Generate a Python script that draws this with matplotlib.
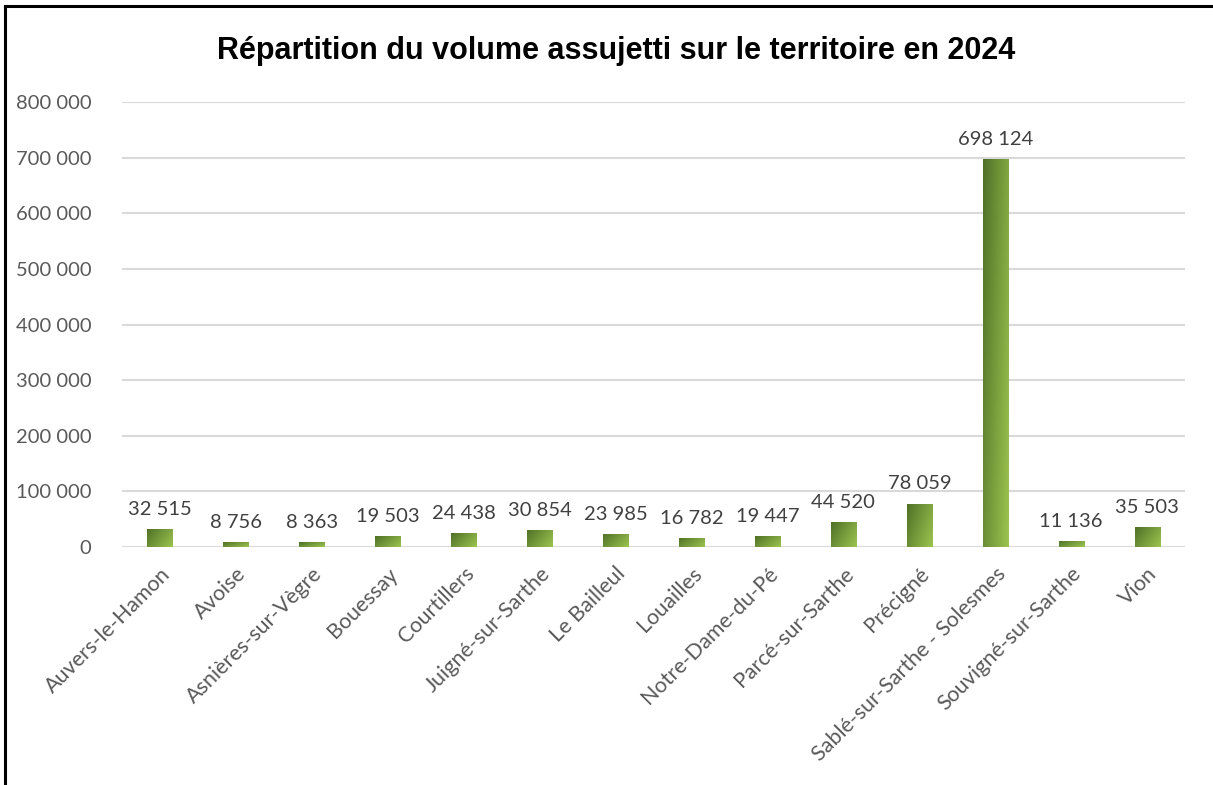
import matplotlib.pyplot as plt
import numpy as np
from matplotlib.colors import LinearSegmentedColormap
from matplotlib.lines import Line2D

communes = ["Auvers-le-Hamon", "Avoise", "Asnières-sur-Vègre", "Bouessay", "Courtillers",
            "Juigné-sur-Sarthe", "Le Bailleul", "Louailles", "Notre-Dame-du-Pé",
            "Parcé-sur-Sarthe", "Précigné", "Sablé-sur-Sarthe - Solesmes",
            "Souvigné-sur-Sarthe", "Vion"]
volumes = [32515, 8756, 8363, 19503, 24438, 30854, 23985, 16782, 19447,
           44520, 78059, 698124, 11136, 35503]
yticks = [0, 100000, 200000, 300000, 400000, 500000, 600000, 700000, 800000]

def fmt(v):
    return f"{v:,}".replace(",", " ")

plt.rcParams['font.family'] = ['Lato', 'DejaVu Sans']

fig = plt.figure(figsize=(12.13, 7.85), dpi=100)
ax = fig.add_axes([0.1006, 0.3032, 0.8764, 0.5668])

x = np.arange(len(communes))
w = 0.33
bars = ax.bar(x, volumes, width=w, color='none', edgecolor='none', zorder=3)

# diagonal gradient inside each bar, dark top-left to light bottom-right
cmap = LinearSegmentedColormap.from_list('g', ['#4f7027', '#9cc44f'])
gy, gx = np.mgrid[0:1:100j, 0:1:100j]
grad = 0.65 * gx + 0.35 * gy
for b in bars:
    x0, y0 = b.get_x(), b.get_y()
    im = ax.imshow(grad, cmap=cmap, extent=[x0, x0 + b.get_width(), y0, y0 + b.get_height()],
                   origin='upper', aspect='auto', zorder=3, interpolation='bilinear')
    im.set_clip_path(b)

for xi, v in zip(x, volumes):
    ax.annotate(fmt(v), (xi, v), xytext=(0, 8), textcoords='offset points',
                ha='center', va='bottom', fontsize=14.5, color='#404040')

ax.set_xlim(-0.5, len(communes) - 0.5)
ax.set_ylim(0, 800000)
ax.set_yticks(yticks)
ax.set_yticklabels([fmt(t) for t in yticks])
ax.set_xticks(x)
ax.set_xticklabels(communes, rotation=45, ha='right', rotation_mode='anchor')
ax.tick_params(axis='y', length=0, pad=22, labelsize=14.5, labelcolor='#595959')
ax.tick_params(axis='x', length=0, pad=12, labelsize=15.5, labelcolor='#595959')
ax.grid(axis='y', color='#d9d9d9', lw=1.5, zorder=0)
ax.set_axisbelow(True)
for s in ax.spines.values():
    s.set_visible(False)
ax.set_aspect('auto')

fig.text(0.5083, 0.935, "Répartition du volume assujetti sur le territoire en 2024",
         ha='center', va='center', fontsize=22, fontweight='bold',
         family=['Liberation Sans', 'DejaVu Sans'])

# outer frame (top and left edges only)
fig.add_artist(Line2D([0.0045, 1.0], [0.9925, 0.9925], transform=fig.transFigure, color='black', lw=2.2))
fig.add_artist(Line2D([0.0045, 0.0045], [0.0, 0.9925], transform=fig.transFigure, color='black', lw=2.2))

fig.savefig('out.png', dpi=100)
